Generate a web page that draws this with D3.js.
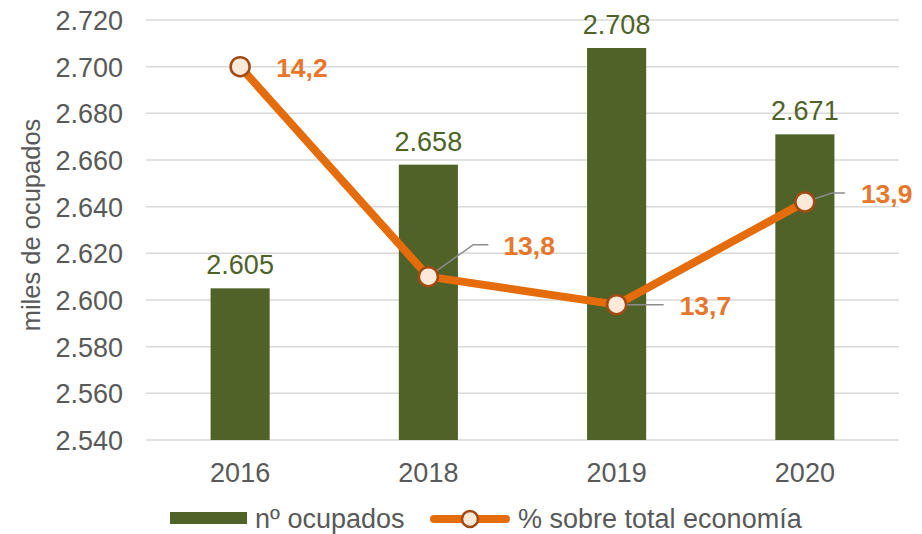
<!DOCTYPE html>
<html>
<head>
<meta charset="utf-8">
<script src="https://cdn.jsdelivr.net/npm/d3@7"></script>
<style>
  body { margin: 0; background: #fff; }
  svg { display: block; font-family: "Liberation Sans", Arial, sans-serif; }
</style>
</head>
<body>
<svg id="chart" width="922" height="534"></svg>
<script>
// datos
const years = ['2016', '2018', '2019', '2020'];
const ocupados = [2605, 2658, 2708, 2671];          // miles de ocupados
const pctEconomia = [14.2, 13.75, 13.69, 13.91];     // % sobre total economía
const yTicks = [2540, 2560, 2580, 2600, 2620, 2640, 2660, 2680, 2700, 2720];

const barColor = '#4f6228';
const lineColor = '#e46c0a';
const labelOrange = '#e8762b';
const textGrey = '#595959';

const es = d3.formatLocale({ decimal: ',', thousands: '.', grouping: [3], currency: ['', ' €'] });
const fmtMiles = es.format(',.0f');
const fmtPct = es.format('.1f');

const svg = d3.select('#chart');
const plot = { left: 146, right: 899, top: 20, bottom: 440 };

const x = d3.scaleBand()
    .domain(years)
    .range([plot.left, plot.right])
    .paddingInner(0.686)
    .paddingOuter(0.343);

const y = d3.scaleLinear()
    .domain([2540, 2720])
    .range([plot.bottom, plot.top]);

// eje secundario (oculto)
const y2 = d3.scaleLinear()
    .domain([13.4, 14.3])
    .range([plot.bottom, plot.top]);

// Grid horizontal
svg.append('g')
    .selectAll('line')
    .data(yTicks)
    .enter()
    .append('line')
    .attr('x1', plot.left)
    .attr('x2', plot.right)
    .attr('y1', d => y(d))
    .attr('y2', d => y(d))
    .attr('stroke', '#d9d9d9')
    .attr('stroke-width', 1.5);

// Eje Y
const yAxis = svg.append('g')
    .attr('transform', `translate(${plot.left - 23},0)`)
    .call(d3.axisLeft(y).tickValues(yTicks).tickFormat(fmtMiles).tickSize(0).tickPadding(0));
yAxis.select('.domain').remove();
yAxis.selectAll('text')
    .attr('fill', textGrey)
    .style('font-size', '27px')
    .attr('dy', '0.35em');

// Eje X
const xAxis = svg.append('g')
    .attr('transform', `translate(0,${plot.bottom})`)
    .call(d3.axisBottom(x).tickSize(0).tickPadding(0));
xAxis.select('.domain').remove();
xAxis.selectAll('text')
    .attr('fill', textGrey)
    .style('font-size', '27px')
    .attr('y', 42)
    .attr('dy', 0);

// Título eje Y
svg.append('text')
    .attr('transform', 'rotate(-90)')
    .attr('x', -225)
    .attr('y', 40)
    .attr('text-anchor', 'middle')
    .attr('fill', textGrey)
    .style('font-size', '25.5px')
    .text('miles de ocupados');

// Barras
svg.append('g')
    .selectAll('rect')
    .data(ocupados)
    .enter()
    .append('rect')
    .attr('x', (d, i) => x(years[i]))
    .attr('y', d => y(d))
    .attr('width', x.bandwidth())
    .attr('height', d => plot.bottom - y(d))
    .attr('fill', barColor);

// Etiquetas de barras
svg.append('g')
    .selectAll('text')
    .data(ocupados)
    .enter()
    .append('text')
    .attr('x', (d, i) => x(years[i]) + x.bandwidth() / 2)
    .attr('y', d => y(d) - 14)
    .attr('text-anchor', 'middle')
    .attr('fill', barColor)
    .style('font-size', '27px')
    .text(d => fmtMiles(d));

// Línea
const pts = pctEconomia.map((v, i) => [x(years[i]) + x.bandwidth() / 2, y2(v)]);

svg.append('path')
    .datum(pts)
    .attr('d', d3.line())
    .attr('fill', 'none')
    .attr('stroke', lineColor)
    .attr('stroke-width', 8)
    .attr('stroke-linejoin', 'round');

// líneas guía de las etiquetas (desplazamientos respecto al marcador)
const leaders = [
    null,
    [[0, 0], [45, -32], [60, -32]],
    [[0, 0], [47, 0]],
    [[0, 0], [27, -9], [40, -9]]
];
const labelPos = [[36, 10], [75, -22], [63, 10], [56, 1]];

svg.append('g')
    .selectAll('path')
    .data(pts.map((p, i) => ({ p, lead: leaders[i] })).filter(d => d.lead))
    .enter()
    .append('path')
    .attr('d', d => d3.line()(d.lead.map(o => [d.p[0] + o[0], d.p[1] + o[1]])))
    .attr('fill', 'none')
    .attr('stroke', '#8c8c8c')
    .attr('stroke-width', 1.5);

// Marcadores
svg.append('g')
    .selectAll('circle')
    .data(pts)
    .enter()
    .append('circle')
    .attr('cx', d => d[0])
    .attr('cy', d => d[1])
    .attr('r', 9.5)
    .attr('fill', '#fde9d9')
    .attr('stroke', '#a24a12')
    .attr('stroke-width', 2.5);

// Etiquetas de la línea
svg.append('g')
    .selectAll('text')
    .data(pctEconomia)
    .enter()
    .append('text')
    .attr('x', (d, i) => pts[i][0] + labelPos[i][0])
    .attr('y', (d, i) => pts[i][1] + labelPos[i][1])
    .attr('fill', labelOrange)
    .style('font-size', '26.5px')
    .style('font-weight', 'bold')
    .text(d => fmtPct(d));

// Leyenda
const legend = svg.append('g');
legend.append('rect')
    .attr('x', 170)
    .attr('y', 512)
    .attr('width', 77)
    .attr('height', 12)
    .attr('fill', barColor);
legend.append('text')
    .attr('x', 255)
    .attr('y', 528)
    .attr('fill', textGrey)
    .style('font-size', '27px')
    .text('nº ocupados');
legend.append('line')
    .attr('x1', 434)
    .attr('x2', 506)
    .attr('y1', 519)
    .attr('y2', 519)
    .attr('stroke', lineColor)
    .attr('stroke-width', 8)
    .attr('stroke-linecap', 'round');
legend.append('circle')
    .attr('cx', 470)
    .attr('cy', 519)
    .attr('r', 8)
    .attr('fill', '#fde9d9')
    .attr('stroke', '#a24a12')
    .attr('stroke-width', 2.5);
legend.append('text')
    .attr('x', 518)
    .attr('y', 528)
    .attr('fill', textGrey)
    .style('font-size', '27px')
    .text('% sobre total economía');
</script>
</body>
</html>
